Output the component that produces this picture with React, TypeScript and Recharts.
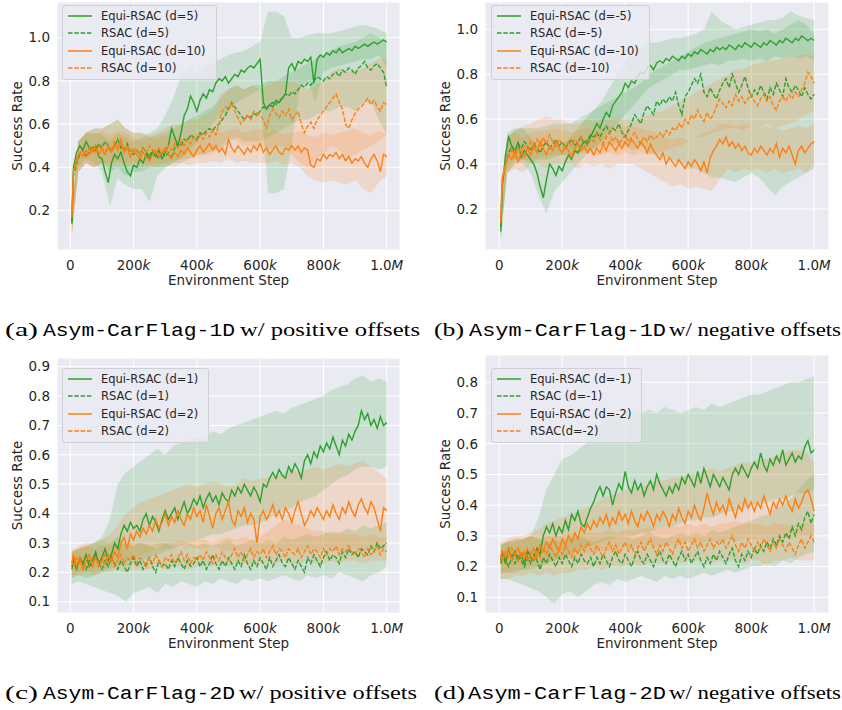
import React from 'react';
import { ComposedChart, Area, Line, XAxis, YAxis, CartesianGrid } from 'recharts';

const GREEN = '#2ca02c';
const ORANGE = '#ff7f0e';
const TEXT = '#262626';
const FONT = '"DejaVu Sans", sans-serif';

// environment steps (in thousands) for the mean curves
const STEPS = [
  5, 10, 20, 30, 40, 50, 60, 70, 80, 90, 100,
  110, 120, 130, 140, 150, 160, 170, 180, 190, 200,
  210, 220, 230, 240, 250, 260, 270, 280, 290, 300,
  310, 320, 330, 340, 350, 360, 370, 380, 390, 400,
  410, 420, 430, 440, 450, 460, 470, 480, 490, 500,
  510, 520, 530, 540, 550, 560, 570, 580, 590, 600,
  610, 620, 630, 640, 650, 660, 670, 680, 690, 700,
  710, 720, 730, 740, 750, 760, 770, 780, 790, 800,
  810, 820, 830, 840, 850, 860, 870, 880, 890, 900,
  910, 920, 930, 940, 950, 960, 970, 980, 990, 1000,
];
// steps for the shaded spread
const BAND_STEPS = [
  5, 25, 50, 75, 100, 125, 150, 175, 200,
  225, 250, 275, 300, 325, 350, 375, 400,
  425, 450, 475, 500, 525, 550, 575, 600,
  625, 650, 675, 700, 725, 750, 775, 800,
  825, 850, 875, 900, 925, 950, 975, 1000,
];
const X_TICKS = [0, 200, 400, 600, 800, 1000];

// (a) 1D positive offsets
const A_EQUI_5 = [
  0.14, 0.40, 0.47, 0.50, 0.48, 0.52, 0.49, 0.47, 0.50, 0.45, 0.44,
  0.38, 0.33, 0.42, 0.46, 0.44, 0.47, 0.42, 0.38, 0.36, 0.41,
  0.40, 0.44, 0.42, 0.46, 0.44, 0.47, 0.45, 0.48, 0.44, 0.47,
  0.50, 0.58, 0.54, 0.50, 0.56, 0.64, 0.67, 0.73, 0.70, 0.66,
  0.71, 0.74, 0.72, 0.76, 0.75, 0.79, 0.81, 0.80, 0.82, 0.79,
  0.81, 0.83, 0.82, 0.85, 0.84, 0.86, 0.87, 0.86, 0.88, 0.90,
  0.70, 0.67, 0.69, 0.68, 0.71, 0.70, 0.72, 0.74, 0.86, 0.88,
  0.85, 0.89, 0.88, 0.90, 0.89, 0.91, 0.79, 0.90, 0.92, 0.91,
  0.93, 0.92, 0.94, 0.93, 0.95, 0.93, 0.94, 0.95, 0.94, 0.96,
  0.95, 0.96, 0.97, 0.96, 0.97, 0.98, 0.97, 0.98, 0.99, 0.98,
];
const A_RSAC_5 = [
  0.15, 0.36, 0.42, 0.46, 0.48, 0.45, 0.47, 0.50, 0.48, 0.51, 0.49,
  0.52, 0.50, 0.47, 0.50, 0.53, 0.49, 0.48, 0.51, 0.47, 0.46,
  0.48, 0.46, 0.49, 0.47, 0.45, 0.48, 0.46, 0.44, 0.47, 0.45,
  0.47, 0.44, 0.49, 0.51, 0.50, 0.53, 0.52, 0.55, 0.54, 0.53,
  0.56, 0.55, 0.57, 0.58, 0.57, 0.59, 0.60, 0.62, 0.64, 0.67,
  0.70, 0.68, 0.66, 0.64, 0.62, 0.64, 0.63, 0.65, 0.64, 0.66,
  0.68, 0.67, 0.69, 0.70, 0.69, 0.71, 0.72, 0.74, 0.73, 0.75,
  0.74, 0.76, 0.78, 0.77, 0.79, 0.78, 0.80, 0.82, 0.81, 0.80,
  0.82, 0.81, 0.83, 0.84, 0.82, 0.85, 0.84, 0.86, 0.85, 0.83,
  0.86, 0.87, 0.89, 0.86, 0.85, 0.87, 0.88, 0.86, 0.84, 0.77,
];
const A_EQUI_10 = [
  0.18, 0.38, 0.44, 0.47, 0.45, 0.48, 0.46, 0.49, 0.47, 0.50, 0.48,
  0.46, 0.49, 0.47, 0.51, 0.48, 0.52, 0.47, 0.49, 0.45, 0.48,
  0.46, 0.44, 0.47, 0.45, 0.43, 0.46, 0.48, 0.45, 0.47, 0.49,
  0.46, 0.44, 0.47, 0.45, 0.48, 0.46, 0.49, 0.47, 0.45, 0.48,
  0.50, 0.47, 0.49, 0.51, 0.48, 0.50, 0.47, 0.49, 0.46, 0.53,
  0.49, 0.47, 0.50, 0.48, 0.46, 0.49, 0.47, 0.50, 0.48, 0.51,
  0.47, 0.49, 0.46, 0.48, 0.50, 0.47, 0.46, 0.49, 0.48, 0.50,
  0.48, 0.50, 0.47, 0.49, 0.48, 0.41, 0.40, 0.44, 0.43, 0.46,
  0.44, 0.46, 0.45, 0.47, 0.44, 0.46, 0.43, 0.45, 0.42, 0.44,
  0.43, 0.45, 0.42, 0.40, 0.44, 0.46, 0.43, 0.38, 0.46, 0.45,
];
const A_RSAC_10 = [
  0.17, 0.38, 0.43, 0.46, 0.48, 0.45, 0.49, 0.47, 0.50, 0.46, 0.49,
  0.47, 0.50, 0.48, 0.52, 0.49, 0.53, 0.48, 0.50, 0.47, 0.49,
  0.48, 0.46, 0.49, 0.47, 0.50, 0.48, 0.46, 0.49, 0.47, 0.48,
  0.50, 0.48, 0.51, 0.49, 0.52, 0.50, 0.53, 0.51, 0.54, 0.52,
  0.55, 0.53, 0.56, 0.54, 0.57, 0.55, 0.60, 0.66, 0.68, 0.67,
  0.70, 0.66, 0.63, 0.60, 0.62, 0.64, 0.62, 0.66, 0.65, 0.64,
  0.62, 0.58, 0.64, 0.67, 0.65, 0.63, 0.66, 0.64, 0.67, 0.62,
  0.64, 0.66, 0.60, 0.56, 0.59, 0.61, 0.58, 0.62, 0.64, 0.66,
  0.68, 0.70, 0.72, 0.74, 0.70, 0.67, 0.60, 0.58, 0.62, 0.65,
  0.67, 0.68, 0.70, 0.72, 0.69, 0.71, 0.68, 0.66, 0.70, 0.69,
];
const A_EQUI_5_LO = [
  0.10, 0.40, 0.44, 0.42, 0.38, 0.22, 0.35, 0.32, 0.30,
  0.30, 0.24, 0.36, 0.40, 0.42, 0.44, 0.48, 0.52,
  0.56, 0.60, 0.64, 0.66, 0.70, 0.72, 0.74, 0.76,
  0.28, 0.28, 0.30, 0.50, 0.76, 0.80, 0.70, 0.84,
  0.86, 0.87, 0.88, 0.89, 0.90, 0.90, 0.92, 0.86,
];
const A_EQUI_5_HI = [
  0.18, 0.52, 0.56, 0.56, 0.55, 0.52, 0.56, 0.54, 0.52,
  0.54, 0.56, 0.58, 0.64, 0.72, 0.82, 0.86, 0.84,
  0.86, 0.88, 0.90, 0.92, 0.93, 0.94, 0.96, 0.98,
  1.12, 1.12, 1.10, 1.00, 1.00, 1.01, 1.02, 1.02,
  1.02, 1.03, 1.04, 1.05, 1.06, 1.05, 1.04, 1.02,
];
const A_RSAC_5_LO = [
  0.10, 0.38, 0.42, 0.40, 0.42, 0.38, 0.40, 0.36, 0.38,
  0.38, 0.40, 0.40, 0.40, 0.42, 0.42, 0.44, 0.46,
  0.46, 0.48, 0.48, 0.52, 0.54, 0.52, 0.52, 0.52,
  0.54, 0.56, 0.58, 0.60, 0.62, 0.62, 0.64, 0.66,
  0.66, 0.68, 0.68, 0.66, 0.70, 0.70, 0.62, 0.55,
];
const A_RSAC_5_HI = [
  0.20, 0.52, 0.56, 0.58, 0.58, 0.60, 0.62, 0.58, 0.56,
  0.56, 0.54, 0.55, 0.56, 0.58, 0.60, 0.62, 0.64,
  0.66, 0.68, 0.72, 0.76, 0.78, 0.76, 0.78, 0.78,
  0.80, 0.80, 0.82, 0.84, 0.86, 0.88, 0.90, 0.92,
  0.94, 0.96, 0.97, 0.98, 1.00, 1.02, 1.00, 0.98,
];
const A_EQUI_10_LO = [
  0.08, 0.38, 0.42, 0.40, 0.42, 0.40, 0.42, 0.40, 0.42,
  0.40, 0.41, 0.40, 0.42, 0.40, 0.42, 0.41, 0.42,
  0.42, 0.43, 0.42, 0.44, 0.42, 0.43, 0.42, 0.42,
  0.42, 0.43, 0.41, 0.42, 0.40, 0.36, 0.34, 0.33,
  0.34, 0.33, 0.32, 0.34, 0.30, 0.28, 0.33, 0.36,
];
const A_EQUI_10_HI = [
  0.22, 0.52, 0.56, 0.55, 0.57, 0.55, 0.57, 0.56, 0.54,
  0.52, 0.54, 0.53, 0.55, 0.54, 0.53, 0.55, 0.56,
  0.56, 0.58, 0.56, 0.57, 0.58, 0.56, 0.57, 0.58,
  0.56, 0.57, 0.55, 0.56, 0.57, 0.55, 0.54, 0.56,
  0.55, 0.56, 0.57, 0.58, 0.56, 0.55, 0.57, 0.55,
];
const A_RSAC_10_LO = [
  0.08, 0.38, 0.42, 0.40, 0.42, 0.42, 0.43, 0.42, 0.42,
  0.42, 0.41, 0.42, 0.42, 0.43, 0.44, 0.44, 0.45,
  0.46, 0.46, 0.50, 0.54, 0.52, 0.50, 0.50, 0.50,
  0.48, 0.50, 0.50, 0.46, 0.42, 0.40, 0.44, 0.46,
  0.50, 0.48, 0.44, 0.46, 0.48, 0.50, 0.52, 0.55,
];
const A_RSAC_10_HI = [
  0.22, 0.52, 0.56, 0.58, 0.58, 0.60, 0.62, 0.58, 0.56,
  0.56, 0.55, 0.56, 0.58, 0.60, 0.60, 0.62, 0.62,
  0.64, 0.66, 0.74, 0.76, 0.78, 0.76, 0.78, 0.76,
  0.78, 0.80, 0.80, 0.80, 0.78, 0.76, 0.78, 0.80,
  0.84, 0.86, 0.84, 0.85, 0.86, 0.88, 0.90, 0.90,
];

// (b) 1D negative offsets
const B_EQUI_5 = [
  0.10, 0.30, 0.44, 0.52, 0.48, 0.45, 0.50, 0.43, 0.46, 0.44, 0.42,
  0.40, 0.36, 0.30, 0.25, 0.33, 0.40, 0.38, 0.35, 0.39, 0.37,
  0.41, 0.44, 0.42, 0.46, 0.45, 0.48, 0.50, 0.49, 0.52, 0.55,
  0.58, 0.56, 0.60, 0.63, 0.61, 0.66, 0.68, 0.70, 0.72, 0.76,
  0.74, 0.77, 0.76, 0.79, 0.81, 0.80, 0.83, 0.84, 0.82, 0.85,
  0.86, 0.85, 0.87, 0.86, 0.88, 0.87, 0.86, 0.88, 0.87, 0.89,
  0.88, 0.90, 0.89, 0.91, 0.90, 0.89, 0.91, 0.90, 0.92, 0.91,
  0.92, 0.91, 0.93, 0.92, 0.91, 0.93, 0.92, 0.94, 0.93, 0.92,
  0.94, 0.93, 0.92, 0.94, 0.93, 0.95, 0.94, 0.93, 0.95, 0.94,
  0.96, 0.95, 0.94, 0.96, 0.95, 0.97, 0.96, 0.95, 0.96, 0.95,
];
const B_RSAC_5 = [
  0.12, 0.32, 0.40, 0.45, 0.48, 0.46, 0.49, 0.47, 0.50, 0.48, 0.46,
  0.49, 0.47, 0.45, 0.48, 0.50, 0.47, 0.49, 0.51, 0.48, 0.50,
  0.47, 0.49, 0.51, 0.48, 0.50, 0.52, 0.49, 0.51, 0.53, 0.52,
  0.54, 0.52, 0.55, 0.57, 0.54, 0.56, 0.55, 0.58, 0.54, 0.52,
  0.55, 0.58, 0.62, 0.60, 0.58, 0.63, 0.66, 0.64, 0.62, 0.68,
  0.66, 0.69, 0.67, 0.70, 0.68, 0.72, 0.66, 0.62, 0.70, 0.72,
  0.75, 0.78, 0.76, 0.80, 0.72, 0.70, 0.74, 0.71, 0.69, 0.73,
  0.76, 0.78, 0.74, 0.80, 0.76, 0.72, 0.75, 0.79, 0.74, 0.70,
  0.73, 0.71, 0.75, 0.72, 0.69, 0.74, 0.71, 0.76, 0.73, 0.70,
  0.78, 0.74, 0.72, 0.75, 0.73, 0.70, 0.74, 0.71, 0.69, 0.71,
];
const B_EQUI_10 = [
  0.14, 0.34, 0.40, 0.44, 0.42, 0.46, 0.41, 0.45, 0.43, 0.47, 0.44,
  0.48, 0.45, 0.50, 0.47, 0.44, 0.48, 0.46, 0.50, 0.47, 0.45,
  0.48, 0.46, 0.43, 0.47, 0.49, 0.46, 0.48, 0.45, 0.47, 0.44,
  0.47, 0.45, 0.49, 0.46, 0.50, 0.48, 0.46, 0.49, 0.47, 0.50,
  0.48, 0.51, 0.49, 0.47, 0.50, 0.48, 0.45, 0.49, 0.46, 0.44,
  0.42, 0.45, 0.40, 0.43, 0.41, 0.39, 0.42, 0.40, 0.38, 0.41,
  0.39, 0.42, 0.40, 0.37, 0.41, 0.36, 0.43, 0.46, 0.48, 0.51,
  0.49, 0.52, 0.48, 0.50, 0.47, 0.49, 0.46, 0.48, 0.45, 0.44,
  0.47, 0.45, 0.48, 0.46, 0.44, 0.47, 0.45, 0.49, 0.43, 0.47,
  0.45, 0.48, 0.44, 0.40, 0.46, 0.48, 0.45, 0.47, 0.49, 0.50,
];
const B_RSAC_10 = [
  0.15, 0.33, 0.40, 0.44, 0.46, 0.43, 0.47, 0.45, 0.48, 0.46, 0.50,
  0.47, 0.51, 0.48, 0.52, 0.49, 0.53, 0.50, 0.48, 0.51, 0.49,
  0.47, 0.50, 0.48, 0.51, 0.49, 0.52, 0.50, 0.48, 0.51, 0.50,
  0.53, 0.51, 0.49, 0.52, 0.54, 0.50, 0.52, 0.49, 0.51, 0.53,
  0.50, 0.52, 0.54, 0.51, 0.49, 0.52, 0.50, 0.53, 0.51, 0.52,
  0.54, 0.52, 0.55, 0.53, 0.56, 0.55, 0.58, 0.56, 0.60, 0.58,
  0.62, 0.60, 0.64, 0.61, 0.59, 0.63, 0.60, 0.62, 0.66, 0.69,
  0.67, 0.65, 0.68, 0.66, 0.71, 0.68, 0.70, 0.67, 0.69, 0.71,
  0.68, 0.66, 0.69, 0.71, 0.68, 0.70, 0.66, 0.64, 0.68, 0.70,
  0.68, 0.71, 0.69, 0.72, 0.70, 0.73, 0.76, 0.81, 0.79, 0.76,
];
const B_EQUI_5_LO = [
  0.06, 0.38, 0.42, 0.40, 0.36, 0.26, 0.18, 0.28, 0.32,
  0.36, 0.40, 0.44, 0.47, 0.50, 0.54, 0.58, 0.62,
  0.66, 0.70, 0.74, 0.76, 0.78, 0.80, 0.82, 0.82,
  0.83, 0.84, 0.85, 0.84, 0.86, 0.86, 0.87, 0.86,
  0.87, 0.86, 0.88, 0.87, 0.88, 0.87, 0.88, 0.86,
];
const B_EQUI_5_HI = [
  0.15, 0.54, 0.56, 0.56, 0.52, 0.48, 0.44, 0.48, 0.48,
  0.52, 0.56, 0.60, 0.64, 0.68, 0.74, 0.80, 0.86,
  0.90, 0.92, 0.94, 0.94, 0.95, 0.96, 0.96, 0.97,
  0.98, 1.00, 1.08, 1.04, 1.02, 1.00, 1.01, 1.02,
  1.03, 1.04, 1.04, 1.05, 1.08, 1.06, 1.05, 1.04,
];
const B_RSAC_5_LO = [
  0.06, 0.36, 0.40, 0.42, 0.40, 0.42, 0.42, 0.43, 0.44,
  0.44, 0.45, 0.46, 0.46, 0.48, 0.48, 0.49, 0.48,
  0.46, 0.48, 0.45, 0.44, 0.43, 0.42, 0.40, 0.38,
  0.38, 0.36, 0.34, 0.34, 0.33, 0.32, 0.34, 0.36,
  0.34, 0.30, 0.26, 0.30, 0.32, 0.34, 0.36, 0.38,
];
const B_RSAC_5_HI = [
  0.16, 0.52, 0.55, 0.56, 0.56, 0.56, 0.57, 0.58, 0.58,
  0.58, 0.60, 0.62, 0.64, 0.66, 0.68, 0.70, 0.72,
  0.74, 0.76, 0.80, 0.82, 0.84, 0.86, 0.88, 0.90,
  0.92, 0.94, 0.95, 0.96, 0.97, 0.98, 0.99, 1.00,
  0.99, 1.00, 0.98, 1.00, 1.02, 1.04, 1.02, 0.98,
];
const B_EQUI_10_LO = [
  0.08, 0.36, 0.38, 0.36, 0.40, 0.40, 0.38, 0.40, 0.40,
  0.40, 0.38, 0.40, 0.39, 0.40, 0.38, 0.40, 0.40,
  0.40, 0.38, 0.36, 0.34, 0.32, 0.30, 0.31, 0.29,
  0.30, 0.29, 0.28, 0.33, 0.38, 0.36, 0.38, 0.37,
  0.38, 0.36, 0.38, 0.36, 0.37, 0.38, 0.36, 0.40,
];
const B_EQUI_10_HI = [
  0.18, 0.52, 0.54, 0.52, 0.54, 0.55, 0.55, 0.56, 0.55,
  0.54, 0.55, 0.56, 0.55, 0.56, 0.57, 0.56, 0.57,
  0.57, 0.56, 0.55, 0.54, 0.52, 0.51, 0.52, 0.50,
  0.52, 0.54, 0.55, 0.58, 0.58, 0.57, 0.58, 0.57,
  0.56, 0.57, 0.56, 0.55, 0.56, 0.57, 0.56, 0.58,
];
const B_RSAC_10_LO = [
  0.08, 0.36, 0.40, 0.42, 0.42, 0.43, 0.44, 0.44, 0.44,
  0.44, 0.44, 0.45, 0.44, 0.44, 0.45, 0.44, 0.45,
  0.44, 0.45, 0.44, 0.45, 0.46, 0.47, 0.48, 0.50,
  0.52, 0.52, 0.54, 0.55, 0.56, 0.56, 0.55, 0.57,
  0.56, 0.58, 0.56, 0.57, 0.58, 0.60, 0.62, 0.64,
];
const B_RSAC_10_HI = [
  0.18, 0.52, 0.55, 0.57, 0.58, 0.60, 0.61, 0.60, 0.60,
  0.58, 0.58, 0.60, 0.59, 0.60, 0.60, 0.61, 0.60,
  0.60, 0.61, 0.62, 0.63, 0.64, 0.66, 0.68, 0.70,
  0.72, 0.74, 0.76, 0.78, 0.80, 0.82, 0.82, 0.84,
  0.85, 0.86, 0.86, 0.87, 0.88, 0.88, 0.89, 0.88,
];

// (c) 2D positive offsets
const C_EQUI_1 = [
  0.22, 0.24, 0.21, 0.25, 0.23, 0.26, 0.22, 0.24, 0.27, 0.23, 0.25,
  0.28, 0.24, 0.26, 0.30, 0.28, 0.33, 0.36, 0.34, 0.37, 0.35,
  0.36, 0.34, 0.38, 0.40, 0.36, 0.39, 0.37, 0.34, 0.38, 0.41,
  0.38, 0.40, 0.42, 0.38, 0.41, 0.44, 0.40, 0.42, 0.45, 0.43,
  0.46, 0.42, 0.45, 0.47, 0.44, 0.46, 0.43, 0.47, 0.45, 0.44,
  0.48, 0.46, 0.49, 0.47, 0.50, 0.48, 0.46, 0.49, 0.47, 0.44,
  0.50, 0.49, 0.52, 0.54, 0.52, 0.55, 0.53, 0.52, 0.56, 0.54,
  0.57, 0.55, 0.52, 0.58, 0.60, 0.57, 0.61, 0.59, 0.63, 0.61,
  0.64, 0.62, 0.66, 0.63, 0.60, 0.65, 0.63, 0.67, 0.65, 0.68,
  0.70, 0.75, 0.72, 0.74, 0.70, 0.72, 0.69, 0.73, 0.70, 0.71,
];
const C_RSAC_1 = [
  0.21, 0.24, 0.22, 0.25, 0.23, 0.21, 0.24, 0.22, 0.26, 0.23, 0.21,
  0.24, 0.22, 0.25, 0.23, 0.21, 0.24, 0.22, 0.20, 0.23, 0.25,
  0.22, 0.24, 0.21, 0.23, 0.25, 0.22, 0.20, 0.24, 0.22, 0.23,
  0.21, 0.24, 0.22, 0.25, 0.23, 0.21, 0.24, 0.22, 0.23, 0.25,
  0.22, 0.24, 0.21, 0.23, 0.26, 0.23, 0.21, 0.24, 0.22, 0.25,
  0.23, 0.21, 0.24, 0.22, 0.26, 0.23, 0.21, 0.24, 0.22, 0.25,
  0.23, 0.21, 0.25, 0.22, 0.24, 0.26, 0.23, 0.22, 0.25, 0.23,
  0.21, 0.24, 0.22, 0.20, 0.25, 0.23, 0.26, 0.24, 0.22, 0.25,
  0.27, 0.24, 0.26, 0.25, 0.23, 0.27, 0.25, 0.28, 0.26, 0.27,
  0.25, 0.28, 0.27, 0.26, 0.29, 0.27, 0.30, 0.28, 0.29, 0.30,
];
const C_EQUI_2 = [
  0.23, 0.26, 0.22, 0.25, 0.21, 0.24, 0.26, 0.23, 0.25, 0.22, 0.24,
  0.23, 0.26, 0.24, 0.27, 0.25, 0.30, 0.32, 0.28, 0.33, 0.31,
  0.34, 0.32, 0.35, 0.33, 0.36, 0.34, 0.38, 0.35, 0.37, 0.40,
  0.36, 0.39, 0.37, 0.41, 0.38, 0.36, 0.40, 0.38, 0.42, 0.39,
  0.41, 0.37, 0.43, 0.39, 0.35, 0.40, 0.42, 0.38, 0.41, 0.44,
  0.38, 0.36, 0.41, 0.39, 0.42, 0.37, 0.40, 0.38, 0.30, 0.39,
  0.41, 0.38, 0.40, 0.43, 0.39, 0.41, 0.38, 0.42, 0.40, 0.37,
  0.41, 0.44, 0.40, 0.36, 0.38, 0.41, 0.39, 0.42, 0.40, 0.38,
  0.41, 0.39, 0.43, 0.40, 0.38, 0.42, 0.40, 0.44, 0.41, 0.39,
  0.43, 0.45, 0.42, 0.40, 0.44, 0.42, 0.38, 0.34, 0.42, 0.41,
];
const C_RSAC_2 = [
  0.24, 0.22, 0.25, 0.23, 0.21, 0.24, 0.26, 0.22, 0.25, 0.23, 0.24,
  0.26, 0.23, 0.25, 0.22, 0.24, 0.26, 0.23, 0.25, 0.24, 0.26,
  0.23, 0.25, 0.24, 0.22, 0.25, 0.23, 0.26, 0.24, 0.22, 0.25,
  0.24, 0.26, 0.23, 0.25, 0.27, 0.24, 0.26, 0.23, 0.25, 0.24,
  0.26, 0.24, 0.27, 0.25, 0.23, 0.26, 0.24, 0.27, 0.25, 0.24,
  0.26, 0.28, 0.25, 0.27, 0.24, 0.26, 0.28, 0.25, 0.27, 0.26,
  0.28, 0.25, 0.27, 0.29, 0.26, 0.28, 0.27, 0.25, 0.28, 0.27,
  0.26, 0.28, 0.25, 0.27, 0.29, 0.26, 0.28, 0.27, 0.25, 0.28,
  0.26, 0.28, 0.27, 0.29, 0.26, 0.28, 0.27, 0.29, 0.27, 0.26,
  0.28, 0.27, 0.25, 0.28, 0.26, 0.27, 0.29, 0.26, 0.28, 0.27,
];
const C_EQUI_1_LO = [
  0.18, 0.19, 0.18, 0.19, 0.20, 0.21, 0.22, 0.22, 0.23,
  0.24, 0.25, 0.26, 0.27, 0.28, 0.29, 0.30, 0.31,
  0.32, 0.33, 0.33, 0.34, 0.35, 0.36, 0.36, 0.37,
  0.38, 0.40, 0.41, 0.42, 0.44, 0.45, 0.46, 0.48,
  0.50, 0.52, 0.53, 0.55, 0.56, 0.56, 0.55, 0.56,
];
const C_EQUI_1_HI = [
  0.27, 0.28, 0.29, 0.30, 0.32, 0.38, 0.50, 0.54, 0.56,
  0.58, 0.60, 0.62, 0.60, 0.63, 0.64, 0.65, 0.66,
  0.66, 0.68, 0.67, 0.69, 0.70, 0.71, 0.72, 0.73,
  0.74, 0.75, 0.74, 0.76, 0.77, 0.78, 0.79, 0.80,
  0.82, 0.83, 0.84, 0.86, 0.87, 0.85, 0.86, 0.85,
];
const C_RSAC_1_LO = [
  0.16, 0.17, 0.16, 0.15, 0.14, 0.13, 0.12, 0.10, 0.13,
  0.14, 0.15, 0.13, 0.16, 0.15, 0.17, 0.16, 0.15,
  0.17, 0.16, 0.18, 0.17, 0.16, 0.18, 0.17, 0.18,
  0.17, 0.18, 0.19, 0.18, 0.17, 0.19, 0.18, 0.19,
  0.18, 0.20, 0.19, 0.18, 0.17, 0.19, 0.20, 0.22,
];
const C_RSAC_1_HI = [
  0.27, 0.28, 0.29, 0.30, 0.31, 0.30, 0.32, 0.30, 0.29,
  0.30, 0.29, 0.28, 0.30, 0.29, 0.28, 0.30, 0.29,
  0.30, 0.29, 0.30, 0.31, 0.29, 0.30, 0.31, 0.30,
  0.31, 0.30, 0.32, 0.31, 0.32, 0.33, 0.32, 0.33,
  0.34, 0.33, 0.35, 0.34, 0.36, 0.35, 0.36, 0.37,
];
const C_EQUI_2_LO = [
  0.19, 0.20, 0.20, 0.20, 0.21, 0.22, 0.23, 0.24, 0.25,
  0.26, 0.27, 0.28, 0.28, 0.29, 0.28, 0.29, 0.28,
  0.28, 0.29, 0.28, 0.27, 0.28, 0.27, 0.26, 0.27,
  0.27, 0.28, 0.27, 0.28, 0.27, 0.28, 0.27, 0.28,
  0.28, 0.27, 0.28, 0.28, 0.27, 0.28, 0.27, 0.30,
];
const C_EQUI_2_HI = [
  0.27, 0.29, 0.30, 0.30, 0.31, 0.33, 0.36, 0.40, 0.42,
  0.44, 0.45, 0.46, 0.47, 0.48, 0.49, 0.50, 0.49,
  0.50, 0.51, 0.50, 0.49, 0.50, 0.52, 0.51, 0.52,
  0.52, 0.53, 0.54, 0.55, 0.54, 0.55, 0.56, 0.55,
  0.56, 0.57, 0.56, 0.57, 0.58, 0.56, 0.54, 0.52,
];
const C_RSAC_2_LO = [
  0.19, 0.19, 0.20, 0.19, 0.20, 0.20, 0.21, 0.20, 0.21,
  0.21, 0.21, 0.22, 0.21, 0.22, 0.22, 0.21, 0.22,
  0.22, 0.22, 0.23, 0.22, 0.23, 0.23, 0.22, 0.23,
  0.23, 0.23, 0.24, 0.23, 0.23, 0.24, 0.23, 0.23,
  0.24, 0.23, 0.24, 0.24, 0.23, 0.24, 0.24, 0.24,
];
const C_RSAC_2_HI = [
  0.28, 0.28, 0.29, 0.28, 0.29, 0.29, 0.29, 0.30, 0.30,
  0.30, 0.29, 0.30, 0.30, 0.30, 0.31, 0.30, 0.31,
  0.31, 0.30, 0.31, 0.32, 0.31, 0.32, 0.31, 0.32,
  0.34, 0.36, 0.38, 0.37, 0.36, 0.35, 0.34, 0.34,
  0.33, 0.34, 0.33, 0.33, 0.32, 0.33, 0.32, 0.32,
];

// (d) 2D negative offsets
const D_EQUI_1 = [
  0.22, 0.25, 0.21, 0.26, 0.23, 0.25, 0.22, 0.24, 0.21, 0.25, 0.23,
  0.22, 0.26, 0.24, 0.30, 0.33, 0.31, 0.34, 0.30, 0.33, 0.31,
  0.35, 0.32, 0.37, 0.35, 0.38, 0.34, 0.33, 0.36, 0.39, 0.41,
  0.44, 0.46, 0.43, 0.46, 0.45, 0.40, 0.44, 0.47, 0.45, 0.51,
  0.46, 0.44, 0.48, 0.45, 0.47, 0.43, 0.46, 0.48, 0.45, 0.50,
  0.47, 0.45, 0.43, 0.46, 0.44, 0.47, 0.45, 0.49, 0.47, 0.50,
  0.48, 0.46, 0.51, 0.47, 0.52, 0.49, 0.46, 0.50, 0.48, 0.46,
  0.49, 0.47, 0.45, 0.50, 0.52, 0.50, 0.53, 0.51, 0.49, 0.52,
  0.54, 0.52, 0.57, 0.53, 0.51, 0.55, 0.53, 0.56, 0.54, 0.58,
  0.53, 0.55, 0.57, 0.54, 0.56, 0.55, 0.59, 0.61, 0.57, 0.58,
];
const D_RSAC_1 = [
  0.21, 0.24, 0.22, 0.20, 0.23, 0.21, 0.24, 0.22, 0.20, 0.23, 0.21,
  0.24, 0.22, 0.19, 0.23, 0.21, 0.24, 0.22, 0.20, 0.23, 0.21,
  0.24, 0.22, 0.20, 0.23, 0.21, 0.24, 0.22, 0.21, 0.23, 0.20,
  0.23, 0.21, 0.24, 0.22, 0.20, 0.23, 0.25, 0.22, 0.21, 0.24,
  0.22, 0.20, 0.23, 0.25, 0.22, 0.21, 0.24, 0.22, 0.20, 0.23,
  0.25, 0.22, 0.21, 0.24, 0.22, 0.20, 0.23, 0.25, 0.22, 0.24,
  0.21, 0.23, 0.25, 0.22, 0.20, 0.23, 0.21, 0.24, 0.22, 0.25,
  0.23, 0.21, 0.24, 0.26, 0.22, 0.20, 0.24, 0.22, 0.25, 0.23,
  0.26, 0.24, 0.27, 0.25, 0.28, 0.26, 0.29, 0.27, 0.30, 0.28,
  0.31, 0.29, 0.33, 0.30, 0.34, 0.32, 0.36, 0.38, 0.34, 0.37,
];
const D_EQUI_2 = [
  0.22, 0.25, 0.23, 0.26, 0.22, 0.24, 0.26, 0.23, 0.25, 0.22, 0.24,
  0.26, 0.23, 0.27, 0.25, 0.28, 0.26, 0.29, 0.27, 0.25, 0.29,
  0.27, 0.30, 0.28, 0.31, 0.29, 0.33, 0.31, 0.34, 0.32, 0.35,
  0.33, 0.36, 0.34, 0.37, 0.33, 0.36, 0.34, 0.38, 0.35, 0.37,
  0.34, 0.38, 0.35, 0.33, 0.37, 0.35, 0.38, 0.36, 0.33, 0.37,
  0.35, 0.38, 0.36, 0.33, 0.37, 0.35, 0.39, 0.36, 0.34, 0.38,
  0.36, 0.40, 0.37, 0.35, 0.39, 0.44, 0.40, 0.37, 0.41, 0.38,
  0.40, 0.37, 0.42, 0.39, 0.36, 0.40, 0.38, 0.42, 0.39, 0.41,
  0.38, 0.41, 0.39, 0.43, 0.40, 0.37, 0.41, 0.39, 0.42, 0.40,
  0.43, 0.40, 0.38, 0.42, 0.39, 0.41, 0.44, 0.45, 0.42, 0.38,
];
const D_RSAC_2 = [
  0.24, 0.22, 0.25, 0.23, 0.26, 0.24, 0.22, 0.25, 0.23, 0.26, 0.24,
  0.22, 0.25, 0.23, 0.26, 0.24, 0.27, 0.25, 0.23, 0.26, 0.24,
  0.27, 0.25, 0.23, 0.26, 0.24, 0.27, 0.25, 0.28, 0.26, 0.24,
  0.27, 0.25, 0.23, 0.26, 0.28, 0.25, 0.27, 0.24, 0.26, 0.28,
  0.25, 0.27, 0.24, 0.26, 0.28, 0.25, 0.27, 0.29, 0.26, 0.24,
  0.27, 0.25, 0.28, 0.26, 0.24, 0.27, 0.29, 0.26, 0.28, 0.25,
  0.27, 0.29, 0.26, 0.28, 0.25, 0.27, 0.29, 0.26, 0.28, 0.27,
  0.29, 0.26, 0.28, 0.30, 0.27, 0.25, 0.28, 0.26, 0.29, 0.27,
  0.25, 0.28, 0.26, 0.29, 0.27, 0.25, 0.28, 0.26, 0.29, 0.27,
  0.25, 0.28, 0.26, 0.24, 0.27, 0.29, 0.26, 0.28, 0.30, 0.28,
];
const D_EQUI_1_LO = [
  0.18, 0.18, 0.18, 0.19, 0.19, 0.20, 0.21, 0.22, 0.23,
  0.24, 0.25, 0.26, 0.27, 0.28, 0.29, 0.29, 0.30,
  0.30, 0.31, 0.31, 0.32, 0.33, 0.33, 0.34, 0.35,
  0.35, 0.36, 0.36, 0.37, 0.38, 0.38, 0.39, 0.40,
  0.40, 0.41, 0.42, 0.42, 0.43, 0.44, 0.44, 0.45,
];
const D_EQUI_1_HI = [
  0.27, 0.28, 0.29, 0.29, 0.30, 0.36, 0.45, 0.50, 0.55,
  0.56, 0.58, 0.60, 0.64, 0.68, 0.70, 0.69, 0.70,
  0.71, 0.70, 0.71, 0.70, 0.72, 0.71, 0.70, 0.71,
  0.72, 0.71, 0.73, 0.72, 0.73, 0.74, 0.75, 0.76,
  0.76, 0.77, 0.78, 0.79, 0.80, 0.80, 0.81, 0.82,
];
const D_RSAC_1_LO = [
  0.16, 0.16, 0.15, 0.14, 0.13, 0.12, 0.10, 0.08, 0.11,
  0.12, 0.10, 0.12, 0.14, 0.15, 0.14, 0.16, 0.15,
  0.16, 0.17, 0.16, 0.15, 0.17, 0.16, 0.17, 0.16,
  0.17, 0.18, 0.17, 0.18, 0.19, 0.18, 0.19, 0.20,
  0.20, 0.21, 0.20, 0.22, 0.21, 0.23, 0.24, 0.25,
];
const D_RSAC_1_HI = [
  0.27, 0.28, 0.28, 0.29, 0.30, 0.29, 0.28, 0.29, 0.28,
  0.29, 0.30, 0.29, 0.28, 0.29, 0.30, 0.29, 0.30,
  0.29, 0.30, 0.31, 0.30, 0.29, 0.30, 0.31, 0.30,
  0.31, 0.30, 0.32, 0.31, 0.32, 0.33, 0.34, 0.35,
  0.36, 0.37, 0.39, 0.40, 0.42, 0.45, 0.48, 0.50,
];
const D_EQUI_2_LO = [
  0.18, 0.18, 0.19, 0.19, 0.20, 0.20, 0.21, 0.22, 0.22,
  0.23, 0.23, 0.24, 0.24, 0.25, 0.25, 0.25, 0.26,
  0.26, 0.26, 0.27, 0.26, 0.27, 0.27, 0.27, 0.28,
  0.27, 0.28, 0.28, 0.28, 0.29, 0.28, 0.29, 0.29,
  0.29, 0.28, 0.29, 0.30, 0.29, 0.30, 0.30, 0.30,
];
const D_EQUI_2_HI = [
  0.27, 0.29, 0.30, 0.30, 0.31, 0.32, 0.34, 0.35, 0.36,
  0.37, 0.38, 0.39, 0.40, 0.42, 0.43, 0.44, 0.45,
  0.46, 0.46, 0.47, 0.48, 0.48, 0.49, 0.49, 0.50,
  0.50, 0.51, 0.52, 0.51, 0.52, 0.53, 0.54, 0.54,
  0.55, 0.55, 0.56, 0.57, 0.58, 0.58, 0.57, 0.54,
];
const D_RSAC_2_LO = [
  0.16, 0.16, 0.17, 0.17, 0.18, 0.17, 0.18, 0.17, 0.18,
  0.18, 0.19, 0.19, 0.20, 0.19, 0.20, 0.20, 0.20,
  0.21, 0.20, 0.21, 0.21, 0.21, 0.22, 0.21, 0.22,
  0.22, 0.22, 0.21, 0.22, 0.22, 0.22, 0.21, 0.22,
  0.22, 0.20, 0.22, 0.22, 0.23, 0.22, 0.22, 0.22,
];
const D_RSAC_2_HI = [
  0.28, 0.28, 0.29, 0.29, 0.30, 0.29, 0.30, 0.30, 0.30,
  0.31, 0.30, 0.31, 0.31, 0.31, 0.32, 0.31, 0.32,
  0.32, 0.32, 0.33, 0.32, 0.33, 0.33, 0.33, 0.34,
  0.33, 0.34, 0.33, 0.34, 0.34, 0.35, 0.34, 0.34,
  0.34, 0.33, 0.34, 0.34, 0.33, 0.34, 0.34, 0.34,
];

interface Series {
  name: string;
  color: string;
  dashed: boolean;
  mean: number[];
  lo: number[];
  hi: number[];
}

interface PanelDef {
  left: number;
  top: number;
  plotLeft: number;
  plotTop: number;
  plotW: number;
  plotH: number;
  xDomain: [number, number];
  yDomain: [number, number];
  yTicks: number[];
  legend: { left: number; top: number };
  series: Series[];
}

const toLine = (ys: number[]) =>
  STEPS.map((x, i) => ({ x, y: ys[i] })).filter((p) => p.y !== undefined);
const toBand = (lo: number[], hi: number[]) =>
  BAND_STEPS.map((x, i) => ({ x, r: [lo[i], hi[i]] })).filter((p) => p.r[0] !== undefined && p.r[1] !== undefined);

const PANELS: PanelDef[] = [
  {
    left: 0, top: 0, plotLeft: 57, plotTop: 2, plotW: 343, plotH: 248,
    xDomain: [-42, 1042], yDomain: [0.018, 1.165], yTicks: [0.2, 0.4, 0.6, 0.8, 1.0],
    legend: { left: 62, top: 5 },
    series: [
      { name: 'Equi-RSAC (d=5)', color: GREEN, dashed: false, mean: A_EQUI_5, lo: A_EQUI_5_LO, hi: A_EQUI_5_HI },
      { name: 'RSAC (d=5)', color: GREEN, dashed: true, mean: A_RSAC_5, lo: A_RSAC_5_LO, hi: A_RSAC_5_HI },
      { name: 'Equi-RSAC (d=10)', color: ORANGE, dashed: false, mean: A_EQUI_10, lo: A_EQUI_10_LO, hi: A_EQUI_10_HI },
      { name: 'RSAC (d=10)', color: ORANGE, dashed: true, mean: A_RSAC_10, lo: A_RSAC_10_LO, hi: A_RSAC_10_HI },
    ],
  },
  {
    left: 421, top: 0, plotLeft: 64, plotTop: 2, plotW: 344, plotH: 248,
    xDomain: [-45, 1047], yDomain: [0.0175, 1.1216], yTicks: [0.2, 0.4, 0.6, 0.8, 1.0],
    legend: { left: 70, top: 5 },
    series: [
      { name: 'Equi-RSAC (d=-5)', color: GREEN, dashed: false, mean: B_EQUI_5, lo: B_EQUI_5_LO, hi: B_EQUI_5_HI },
      { name: 'RSAC (d=-5)', color: GREEN, dashed: true, mean: B_RSAC_5, lo: B_RSAC_5_LO, hi: B_RSAC_5_HI },
      { name: 'Equi-RSAC (d=-10)', color: ORANGE, dashed: false, mean: B_EQUI_10, lo: B_EQUI_10_LO, hi: B_EQUI_10_HI },
      { name: 'RSAC (d=-10)', color: ORANGE, dashed: true, mean: B_RSAC_10, lo: B_RSAC_10_LO, hi: B_RSAC_10_HI },
    ],
  },
  {
    left: 0, top: 355, plotLeft: 57, plotTop: 3, plotW: 343, plotH: 255,
    xDomain: [-42, 1042], yDomain: [0.0615, 0.9296], yTicks: [0.1, 0.2, 0.3, 0.4, 0.5, 0.6, 0.7, 0.8, 0.9],
    legend: { left: 62, top: 13 },
    series: [
      { name: 'Equi-RSAC (d=1)', color: GREEN, dashed: false, mean: C_EQUI_1, lo: C_EQUI_1_LO, hi: C_EQUI_1_HI },
      { name: 'RSAC (d=1)', color: GREEN, dashed: true, mean: C_RSAC_1, lo: C_RSAC_1_LO, hi: C_RSAC_1_HI },
      { name: 'Equi-RSAC (d=2)', color: ORANGE, dashed: false, mean: C_EQUI_2, lo: C_EQUI_2_LO, hi: C_EQUI_2_HI },
      { name: 'RSAC (d=2)', color: ORANGE, dashed: true, mean: C_RSAC_2, lo: C_RSAC_2_LO, hi: C_RSAC_2_HI },
    ],
  },
  {
    left: 421, top: 355, plotLeft: 64, plotTop: 0, plotW: 344, plotH: 258,
    xDomain: [-45, 1047], yDomain: [0.0489, 0.889], yTicks: [0.1, 0.2, 0.3, 0.4, 0.5, 0.6, 0.7, 0.8],
    legend: { left: 70, top: 13 },
    series: [
      { name: 'Equi-RSAC (d=-1)', color: GREEN, dashed: false, mean: D_EQUI_1, lo: D_EQUI_1_LO, hi: D_EQUI_1_HI },
      { name: 'RSAC (d=-1)', color: GREEN, dashed: true, mean: D_RSAC_1, lo: D_RSAC_1_LO, hi: D_RSAC_1_HI },
      { name: 'Equi-RSAC (d=-2)', color: ORANGE, dashed: false, mean: D_EQUI_2, lo: D_EQUI_2_LO, hi: D_EQUI_2_HI },
      { name: 'RSAC(d=-2)', color: ORANGE, dashed: true, mean: D_RSAC_2, lo: D_RSAC_2_LO, hi: D_RSAC_2_HI },
    ],
  },
];

// captions: text piece, x, width (the figure is set in a stretched Times / typewriter face)
const CAPTIONS = [
  { y: 336, parts: [['(a)', 5, 33], ['Asym-CarFlag-1D', 43, 192], ['w/ positive offsets', 240, 180]] },
  { y: 336, parts: [['(b)', 434, 30], ['Asym-CarFlag-1D', 469, 197], ['w/ negative offsets', 669, 172]] },
  { y: 699, parts: [['(c)', 5, 33], ['Asym-CarFlag-2D', 43, 192], ['w/ positive offsets', 239, 178]] },
  { y: 699, parts: [['(d)', 434, 31], ['Asym-CarFlag-2D', 468, 198], ['w/ negative offsets', 669, 172]] },
];

function XTick({ x, y, payload }: any) {
  const v = payload.value;
  let num = String(v);
  let unit = '';
  if (v >= 1000) {
    num = (v / 1000).toFixed(1);
    unit = 'M';
  } else if (v > 0) {
    unit = 'k';
  }
  return (
    <text x={x} y={y} dy="0.71em" textAnchor="middle" fill={TEXT} fontSize={13.5} fontFamily={FONT}>
      <tspan>{num}</tspan>
      {unit && <tspan fontStyle="italic">{unit}</tspan>}
    </text>
  );
}

function Legend({ panel }: { panel: PanelDef }) {
  return (
    <div
      style={{
        position: 'absolute',
        left: panel.legend.left,
        top: panel.legend.top,
        padding: '1px 10px 2px 5px',
        background: 'rgba(234,234,242,0.8)',
        border: '1px solid #cfcfd6',
        borderRadius: 3,
        fontFamily: FONT,
        fontSize: 11.5,
        color: TEXT,
      }}
    >
      {panel.series.map((s) => (
        <div key={s.name} style={{ display: 'flex', alignItems: 'center', height: 17.5 }}>
          <svg width={24} height={4} style={{ marginRight: 9 }}>
            <line x1={0} y1={2} x2={24} y2={2} stroke={s.color} strokeWidth={1.5} strokeDasharray={s.dashed ? '4.5 1.8' : undefined} />
          </svg>
          <span style={{ whiteSpace: 'nowrap' }}>{s.name}</span>
        </div>
      ))}
    </div>
  );
}

function Panel({ panel }: { panel: PanelDef }) {
  const W = 421;
  const H = 300;
  const margin = {
    top: panel.plotTop,
    left: panel.plotLeft - 45,
    right: W - panel.plotLeft - panel.plotW,
    bottom: H - panel.plotTop - panel.plotH - 30,
  };
  const bottom = panel.plotTop + panel.plotH;
  return (
    <div style={{ position: 'absolute', left: panel.left, top: panel.top, width: W, height: H }}>
      <ComposedChart width={W} height={H} margin={margin}>
        <CartesianGrid fill="#EAEAF2" stroke="#ffffff" strokeWidth={1} />
        <XAxis
          type="number"
          dataKey="x"
          domain={panel.xDomain}
          ticks={X_TICKS}
          interval={0}
          allowDataOverflow
          axisLine={false}
          tickLine={false}
          tickSize={0}
          tickMargin={10}
          height={30}
          tick={<XTick />}
        />
        <YAxis
          type="number"
          domain={panel.yDomain}
          ticks={panel.yTicks}
          interval={0}
          allowDataOverflow
          axisLine={false}
          tickLine={false}
          tickSize={0}
          tickMargin={7}
          width={45}
          tick={{ fill: TEXT, fontSize: 13.5, fontFamily: FONT }}
          tickFormatter={(v: number) => v.toFixed(1)}
        />
        {panel.series.map((s) => (
          <Area
            key={'band-' + s.name}
            data={toBand(s.lo, s.hi)}
            dataKey="r"
            type="linear"
            stroke="none"
            fill={s.color}
            fillOpacity={0.17}
            isAnimationActive={false}
          />
        ))}
        {panel.series.map((s) => (
          <Line
            key={'line-' + s.name}
            data={toLine(s.mean)}
            dataKey="y"
            type="linear"
            stroke={s.color}
            strokeWidth={1.4}
            strokeDasharray={s.dashed ? '4.5 1.8' : undefined}
            dot={false}
            isAnimationActive={false}
          />
        ))}
      </ComposedChart>
      <svg width={W} height={H} style={{ position: 'absolute', left: 0, top: 0, pointerEvents: 'none' }}>
        <text
          x={panel.plotLeft + panel.plotW / 2}
          y={bottom + 34.5}
          textAnchor="middle"
          fill={TEXT}
          fontSize={13.5}
          fontFamily={FONT}
        >
          Environment Step
        </text>
        <text
          transform={`translate(${panel.plotLeft - 35}, ${panel.plotTop + panel.plotH / 2}) rotate(-90)`}
          textAnchor="middle"
          fill={TEXT}
          fontSize={13.5}
          fontFamily={FONT}
        >
          Success Rate
        </text>
      </svg>
      <Legend panel={panel} />
    </div>
  );
}

export default function App() {
  return (
    <div style={{ position: 'absolute', left: 0, top: 0, width: 842, height: 710, background: '#ffffff' }}>
      {PANELS.map((p, i) => (
        <Panel key={i} panel={p} />
      ))}
      <svg width={842} height={710} style={{ position: 'absolute', left: 0, top: 0, pointerEvents: 'none' }}>
        {CAPTIONS.map((c, i) => (
          <g key={i}>
            {c.parts.map(([txt, x, len], j) => (
              <text
                key={j}
                x={x as number}
                y={c.y}
                textLength={len as number}
                lengthAdjust="spacingAndGlyphs"
                fill="#000"
                fontSize={j === 1 ? 19 : 19.5}
                fontFamily={j === 1 ? '"Liberation Mono", monospace' : '"Liberation Serif", serif'}
              >
                {txt}
              </text>
            ))}
          </g>
        ))}
      </svg>
    </div>
  );
}
